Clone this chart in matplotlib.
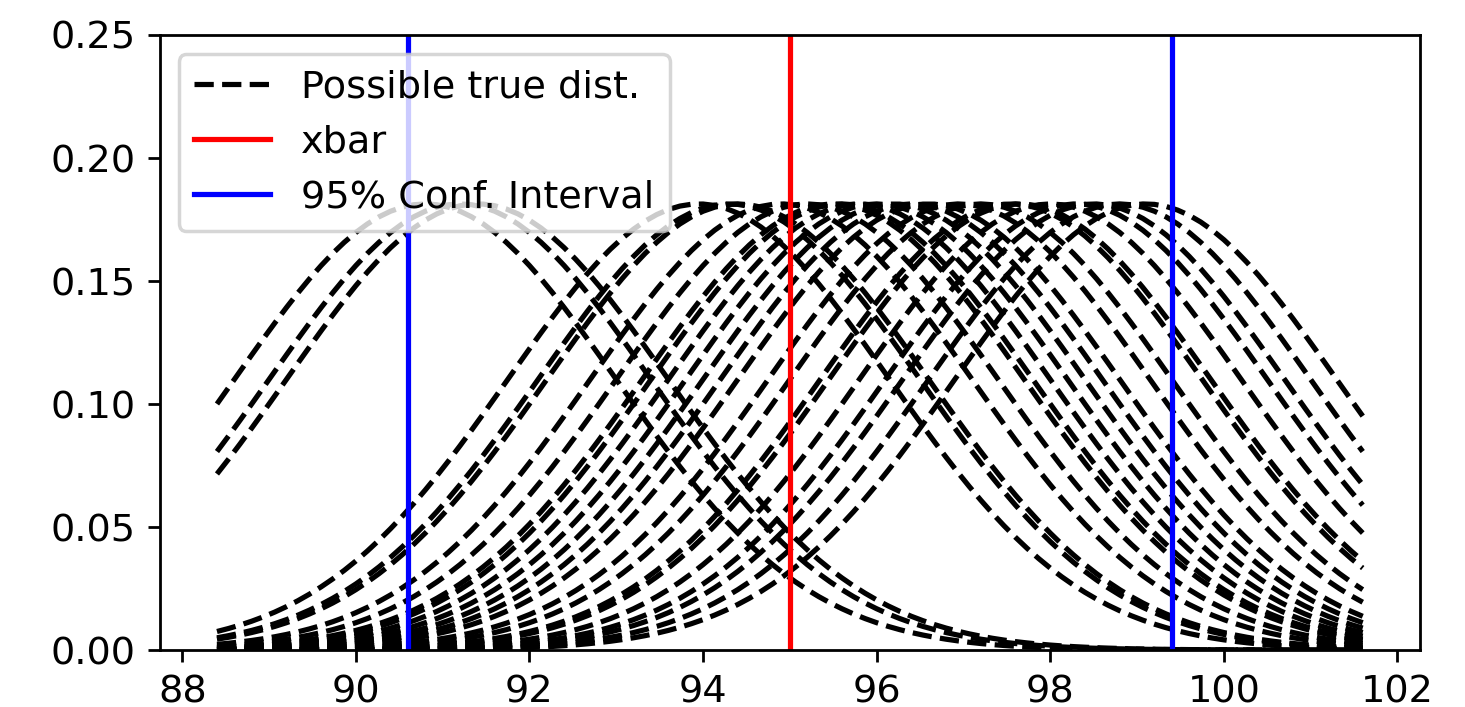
import numpy as np
import matplotlib
matplotlib.use('Agg')
import matplotlib.pyplot as plt

# sample means of the possible true distributions
means = [90.8, 91.2, 91.4, 93.95, 94.3, 94.4, 94.9, 95.2, 95.5, 95.6,
         95.8, 96.0, 96.2, 96.4, 96.6, 96.95, 97.2, 97.55, 97.65, 98.0,
         98.3, 98.5, 98.8, 99.1]
sigma = 2.2
xbar = 95.0
ci_low, ci_high = 90.6, 99.4


def normal_pdf(x, mu, s):
    return np.exp(-(x - mu) ** 2 / (2 * s ** 2)) / (s * np.sqrt(2 * np.pi))


def plot_graph():
    plt.rcParams['font.size'] = 11
    fig = plt.figure(figsize=(5.86, 2.828), dpi=250)
    ax = fig.add_axes([0.109, 0.0806, 0.8603, 0.8699])

    x = np.linspace(xbar - 3 * sigma, xbar + 3 * sigma, 100)
    for i, mu in enumerate(means):
        ax.plot(x, normal_pdf(x, mu, sigma), 'k--',
                label='Possible true dist.' if i == 0 else None)

    ax.axvline(xbar, color='r', label='xbar')
    ax.axvline(ci_low, color='b', label='95% Conf. Interval')
    ax.axvline(ci_high, color='b')

    ax.set_ylim(0, 0.25)
    ax.set_xlim(87.74, 102.26)
    ax.set_xticks(np.arange(88, 103, 2))
    ax.legend(loc='upper left')

    fig.savefig('out.png', dpi=250)


if __name__ == '__main__':
    plot_graph()
